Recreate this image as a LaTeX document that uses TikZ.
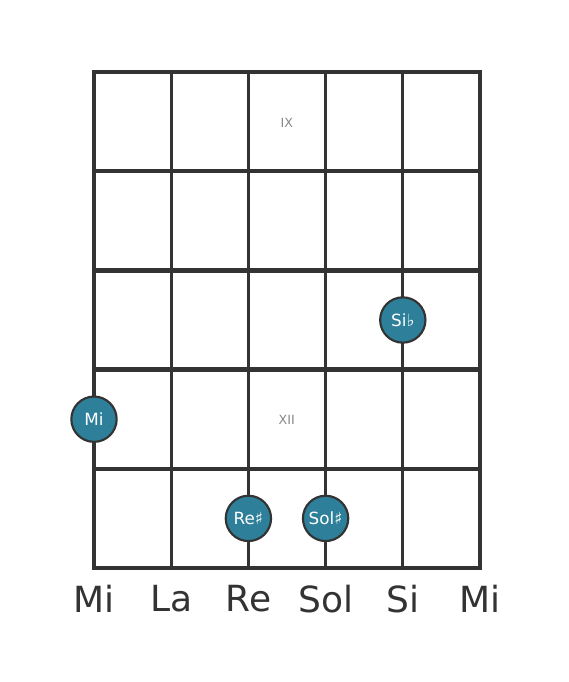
\documentclass[tikz,border=0pt]{standalone}
\usepackage{fontspec}
\setmainfont{DejaVu Sans}
\definecolor{wire}{HTML}{333333}
\definecolor{dotfill}{HTML}{2D7F9A}
\definecolor{fretnum}{HTML}{888888}
\tikzset{
  note/.style={circle, draw=wire, line width=1.6pt, fill=dotfill, minimum size=34pt,
    inner sep=0pt, text=white, font=\fontsize{12.6}{12.6}\selectfont},
  strname/.style={text=wire, font=\fontsize{27}{27}\selectfont},
  fretlbl/.style={text=fretnum, font=\fontsize{9.5}{9.5}\selectfont}
}
\begin{document}
\begin{tikzpicture}[x=0.75pt,y=-0.75pt]
\useasboundingbox (0,0) rectangle (568,682);
% strings
\foreach \s in {0,...,5}
  \draw[wire, line width=2.3pt] (94+77.2*\s,72) -- (94+77.2*\s,568);
% frets
\foreach \f in {0,...,5}
  \draw[wire, line width=3.2pt] (92,72+99.2*\f) -- (482,72+99.2*\f);
% fret numbers
\node[fretlbl] (ix) at (286.8,123) {IX};
\node[fretlbl] (xii) at (286.8,420) {XII};
% notes
\node[note] (mi) at (94,419.2) {Mi};
\node[note] (sib) at (402.8,320) {Si♭};
\node[note] (res) at (248.4,518.4) {Re♯};
\node[note] (sols) at (325.6,518.4) {Sol♯};
% open strings
\foreach \n/\t [count=\i from 0] in {e/Mi,a/La,d/Re,g/Sol,b/Si,hie/Mi}
  \node[strname] (s\n) at (94+77.2*\i,599) {\t};
\end{tikzpicture}
\end{document}
